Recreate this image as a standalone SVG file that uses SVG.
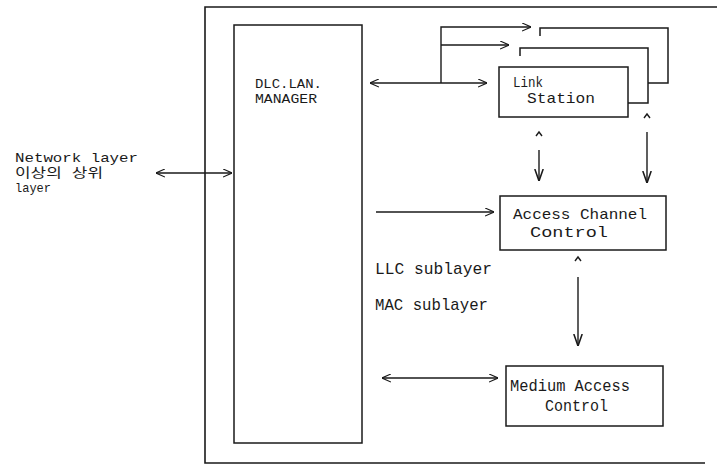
<svg xmlns="http://www.w3.org/2000/svg" width="717" height="466" viewBox="0 0 717 466">
<style>
.ln{fill:none;stroke:#1a1a1a;stroke-width:1.4}
.fr{fill:none;stroke:#1a1a1a;stroke-width:1.6}
.bx{fill:none;stroke:#1a1a1a;stroke-width:1.5}
.t{font-family:"Liberation Mono","Noto Sans CJK KR",monospace;fill:#1a1a1a}
.s{font-size:13px}
.m{font-size:15px}
.n{font-size:17px}
</style>
<defs>
<marker id="ah" viewBox="0 0 10 10" refX="10" refY="5" markerWidth="9" markerHeight="9" markerUnits="userSpaceOnUse" orient="auto-start-reverse">
<path d="M0,0.5 L10,5 L0,9.5" fill="none" stroke="#1a1a1a" stroke-width="1.3"/>
</marker>
<marker id="ahd" viewBox="0 0 10 10" refX="10" refY="5" markerWidth="12" markerHeight="12" markerUnits="userSpaceOnUse" orient="auto-start-reverse">
<path d="M0,1.5 L10,5 L0,8.5" fill="none" stroke="#1a1a1a" stroke-width="1.3"/>
</marker>
</defs>
<rect width="717" height="466" fill="#ffffff"/>

<g id="frame">
<path class="fr" d="M717,7 H205 V463 H705"/>
</g>

<g id="network-layer">
<text class="t s" x="15" y="162" textLength="123" lengthAdjust="spacingAndGlyphs">Network layer</text>
<text class="t s" x="15" y="177" textLength="88" lengthAdjust="spacingAndGlyphs">이상의 상위</text>
<text class="t s" x="15" y="192" textLength="36" lengthAdjust="spacingAndGlyphs">layer</text>
</g>

<g id="dlc-lan-manager">
<rect class="bx" x="234" y="25" width="128" height="418"/>
<text class="t s" x="255" y="88" textLength="67" lengthAdjust="spacingAndGlyphs">DLC.LAN.</text>
<text class="t s" x="255" y="103" textLength="62" lengthAdjust="spacingAndGlyphs">MANAGER</text>
</g>

<g id="link-station">
<path class="bx" d="M540,36 V28 H668 V83 H648"/>
<path class="bx" d="M520,56 V48 H648 V103 H628"/>
<rect class="bx" x="499" y="67" width="129" height="50" fill="#ffffff"/>
<text class="t m" x="513" y="87" textLength="30" lengthAdjust="spacingAndGlyphs">Link</text>
<text class="t m" x="527" y="103" textLength="68" lengthAdjust="spacingAndGlyphs">Station</text>
</g>

<g id="access-channel-control">
<rect class="bx" x="500" y="196" width="166" height="54"/>
<text class="t m" x="513" y="219" textLength="134" lengthAdjust="spacingAndGlyphs">Access Channel</text>
<text class="t m" x="530" y="237" textLength="78" lengthAdjust="spacingAndGlyphs">Control</text>
</g>

<g id="sublayer-labels">
<text class="t n" x="375" y="274" textLength="117" lengthAdjust="spacingAndGlyphs">LLC sublayer</text>
<text class="t n" x="375" y="310" textLength="113" lengthAdjust="spacingAndGlyphs">MAC sublayer</text>
</g>

<g id="medium-access-control">
<rect class="bx" x="506" y="366" width="157" height="60"/>
<text class="t n" x="510" y="391" textLength="120" lengthAdjust="spacingAndGlyphs">Medium Access</text>
<text class="t n" x="545" y="411" textLength="63" lengthAdjust="spacingAndGlyphs">Control</text>
</g>

<g id="connectors">
<path class="ln" d="M156,173 H232" marker-start="url(#ah)" marker-end="url(#ah)"/>
<path class="ln" d="M370,83 H487" marker-start="url(#ah)" marker-end="url(#ah)"/>
<path class="ln" d="M441,83 V27 H531" marker-end="url(#ah)"/>
<path class="ln" d="M441,45 H509" marker-end="url(#ah)"/>
<path class="ln" d="M376,212 H494" marker-end="url(#ah)"/>
<path class="ln" d="M382,378 H498" marker-start="url(#ah)" marker-end="url(#ah)"/>
<path class="ln" d="M539,150 V181" marker-end="url(#ahd)"/>
<path class="ln" d="M647,132 V183" marker-end="url(#ahd)"/>
<path class="ln" d="M578,277 V346" marker-end="url(#ahd)"/>
<path class="ln" d="M536,136 L539,132 L542,136"/>
<path class="ln" d="M644,118 L647,114 L650,118"/>
<path class="ln" d="M575,261 L578,257 L581,261"/>
</g>
</svg>
